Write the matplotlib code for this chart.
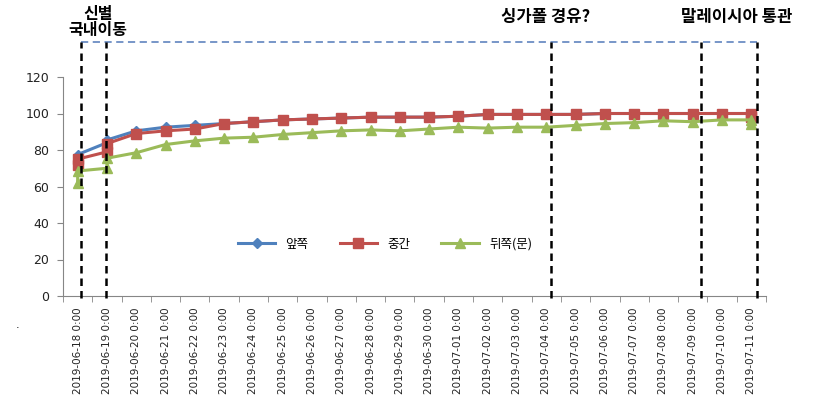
import matplotlib
matplotlib.use('Agg')
import matplotlib.pyplot as plt
import matplotlib.transforms as mtransforms

plt.rcParams['font.family'] = ['DejaVu Sans', 'Noto Sans CJK KR']

# 날짜 축 (하루 단위)
dates = ['2019-06-18 0:00', '2019-06-19 0:00', '2019-06-20 0:00', '2019-06-21 0:00',
         '2019-06-22 0:00', '2019-06-23 0:00', '2019-06-24 0:00', '2019-06-25 0:00',
         '2019-06-26 0:00', '2019-06-27 0:00', '2019-06-28 0:00', '2019-06-29 0:00',
         '2019-06-30 0:00', '2019-07-01 0:00', '2019-07-02 0:00', '2019-07-03 0:00',
         '2019-07-04 0:00', '2019-07-05 0:00', '2019-07-06 0:00', '2019-07-07 0:00',
         '2019-07-08 0:00', '2019-07-09 0:00', '2019-07-10 0:00', '2019-07-11 0:00']

# 각 측정값이 속한 날짜 (같은 날짜에 여러 측정이 있는 경우 포함)
day_idx = [0, 0, 1, 1, 2, 3, 4, 5, 6, 7, 8, 9, 10, 11, 12, 13, 14, 15, 16,
           17, 18, 19, 20, 21, 22, 23, 23]

front = [76, 77.5, 84, 85.5, 90.5, 92.5, 93.5, 94.5, 95.5, 96.5, 97, 97.5, 98, 98,
         98, 98.5, 99.5, 99.5, 99.5, 99.5, 100, 100, 100, 100, 100, 100, 100]
middle = [72, 75, 79, 83.5, 89, 90.5, 91.5, 94.5, 95.5, 96.5, 97, 97.5, 98, 98,
          98, 98.5, 99.5, 99.5, 99.5, 99.5, 100, 100, 100, 100, 100, 100, 98]
back = [62, 68.5, 70, 75.5, 78.5, 83, 85, 86.5, 87, 88.5, 89.5, 90.5, 91, 90.5,
        91.5, 92.5, 92, 92.5, 92.5, 93.5, 94.5, 95, 96, 95.5, 96.5, 96.5, 94]

series_names = ['앞쪽', '중간', '뒤쪽(문)']

# 이벤트 표시선 (날짜 축 위치)
event_x = [0.1, 0.97, 16.15, 21.27, 23.19]

fig = plt.figure(figsize=(8.19, 4.04), dpi=100)
ax = fig.add_axes([63/819, 1-296/404, 703/819, 219/404])

ax.plot(day_idx, front, color='#4F81BD', lw=2.2, marker='D', ms=5, label=series_names[0])
ax.plot(day_idx, middle, color='#C0504D', lw=2.2, marker='s', ms=7.5, label=series_names[1])
ax.plot(day_idx, back, color='#9BBB59', lw=2.2, marker='^', ms=7, label=series_names[2])

ax.set_xlim(-0.5, len(dates)-0.5)
ax.set_ylim(0, 120)
ax.set_yticks(range(0, 121, 20))
ax.set_xticks(range(len(dates)))
ax.set_xticklabels(dates, rotation=90, fontsize=7.5, color='#222222')
ax.set_xticks([i - 0.5 for i in range(len(dates)+1)], minor=True)
ax.tick_params(axis='x', which='major', length=0, pad=8)
ax.tick_params(axis='x', which='minor', length=4, color='#868686')
ax.tick_params(axis='y', length=4, color='#868686', labelsize=9, labelcolor='#222222', pad=6)

for s in ['top', 'right']:
    ax.spines[s].set_visible(False)
for s in ['left', 'bottom']:
    ax.spines[s].set_color('#868686')

leg = ax.legend(loc='center', bbox_to_anchor=(0.458, 0.237), ncol=3, frameon=False,
                prop={'family': ['Noto Sans CJK KR', 'DejaVu Sans'], 'size': 9},
                handlelength=3, columnspacing=2.5)

# 이벤트 선
trans = mtransforms.blended_transform_factory(ax.transData, ax.transAxes)
top_y = (296 - 42) / 219
for x in event_x:
    ax.plot([x, x], [-0.01, top_y], transform=trans, color='black', lw=1.8,
            ls=(0, (3, 2)), clip_on=False, zorder=5)
ax.plot([event_x[0], event_x[-1]], [top_y, top_y], transform=trans, color='#6C8EC4',
        lw=1.3, ls=(0, (4, 2.5)), clip_on=False, zorder=4)

kfont = ['Noto Sans CJK KR', 'DejaVu Sans']
fig.text(98/819, 1-22/404, '신별\n국내이동', ha='center', va='center', fontsize=11.5,
         fontweight='bold', family=kfont, linespacing=1.05, multialignment='center')
fig.text(546/819, 1-17/404, '싱가폴 경유?', ha='center', va='center', fontsize=12,
         fontweight='bold', family=kfont)
fig.text(737/819, 1-17/404, '말레이시아 통관', ha='center', va='center', fontsize=12,
         fontweight='bold', family=kfont)
fig.text(18/819, 1-325/404, '.', ha='center', va='center', fontsize=8)

fig.savefig('out.png', dpi=100)
